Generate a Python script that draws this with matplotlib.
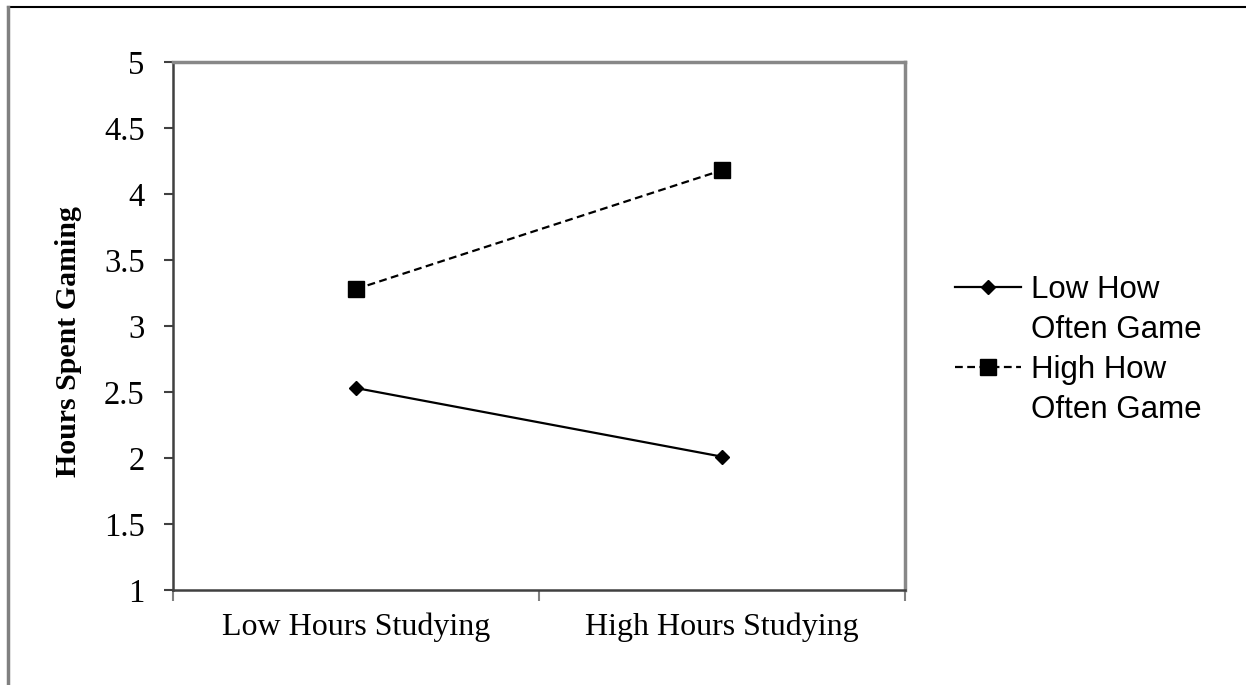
import matplotlib.pyplot as plt
from matplotlib.lines import Line2D

# data
categories = ["Low Hours Studying", "High Hours Studying"]
low_often = [2.53, 2.01]
high_often = [3.28, 4.18]
series_labels = ["Low How", "High How"]
yticks = [1, 1.5, 2, 2.5, 3, 3.5, 4, 4.5, 5]

serif = ["Liberation Serif", "Times New Roman", "DejaVu Serif"]
sans = ["Liberation Sans", "Arial", "DejaVu Sans"]

fig = plt.figure(figsize=(12.46, 6.85), dpi=100)
ax = fig.add_axes([173 / 1246, 1 - 590 / 685, 732 / 1246, 528 / 685])

x = list(range(len(categories)))
l1, = ax.plot(x, low_often, color="black", lw=1.6, marker="D", markersize=7)
l2, = ax.plot(x, high_often, color="black", lw=1.6, ls=(0, (3.5, 2)),
              marker="s", markersize=11)

ax.set_xlim(-0.5, 1.5)
ax.set_ylim(1, 5)
ax.set_yticks(yticks)
ax.set_yticklabels(["%g" % t for t in yticks], fontfamily=serif, fontsize=23.5)
ax.set_xticks(x)
ax.set_xticklabels(categories, fontfamily=serif, fontsize=23)
ax.tick_params(axis="x", which="major", length=0, pad=16)
ax.set_xticks([-0.5, 0.5, 1.5], minor=True)
ax.tick_params(axis="x", which="minor", length=8, color="#808080", width=1.5)
ax.tick_params(axis="y", length=6.5, width=1.5, color="#404040", pad=14)
ax.set_ylabel("Hours Spent Gaming", fontfamily=serif, fontsize=21.5,
              fontweight="bold")
ax.yaxis.set_label_coords(-0.124, 0.47)

for side in ["left", "bottom"]:
    ax.spines[side].set_color("#404040")
    ax.spines[side].set_linewidth(1.8)
for side in ["top", "right"]:
    ax.spines[side].set_color("#888888")
    ax.spines[side].set_linewidth(2.5)

blank = Line2D([], [], linestyle="none")
leg = fig.legend([l1, blank, l2, blank],
                 [series_labels[0], "Often Game", series_labels[1], "Often Game"],
                 loc="upper left", bbox_to_anchor=(955 / 1246, 1 - 275 / 685),
                 frameon=False, prop={"family": sans, "size": 22.5},
                 handlelength=2.1, handletextpad=0.32, labelspacing=0.32,
                 borderaxespad=0, borderpad=0)

# page-like border on the top and left
fig.add_artist(Line2D([8 / 1246, 1], [1 - 7 / 685, 1 - 7 / 685],
                      transform=fig.transFigure, color="black", lw=1.5))
fig.add_artist(Line2D([8 / 1246, 8 / 1246], [0, 1 - 7 / 685],
                      transform=fig.transFigure, color="#808080", lw=2.5))

fig.savefig("out.png", dpi=100)
